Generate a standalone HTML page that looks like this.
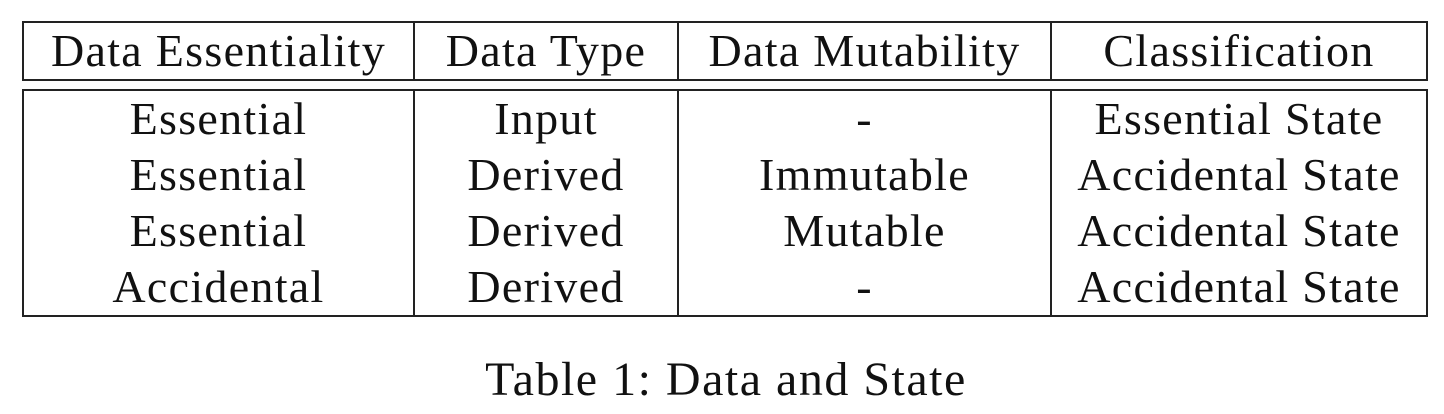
<!DOCTYPE html>
<html><head><meta charset="utf-8"><style>
body{margin:0;width:1444px;height:414px;background:#fff;position:relative;overflow:hidden;font-family:"Liberation Serif",serif;color:#111}
.l{position:absolute;background:#222}
.t{position:absolute;font-size:46px;letter-spacing:1.3px;text-align:center;line-height:56px;white-space:nowrap}
</style></head><body>
<div>
<div class="l" style="left:22px;top:21px;width:1406px;height:2px"></div>
<div class="l" style="left:22px;top:79px;width:1406px;height:2px"></div>
<div class="l" style="left:22px;top:89px;width:1406px;height:2px"></div>
<div class="l" style="left:22px;top:315px;width:1406px;height:2px"></div>
<div class="l" style="left:22px;top:21px;width:2px;height:60px"></div>
<div class="l" style="left:413px;top:21px;width:2px;height:60px"></div>
<div class="l" style="left:677px;top:21px;width:2px;height:60px"></div>
<div class="l" style="left:1050px;top:21px;width:2px;height:60px"></div>
<div class="l" style="left:1426px;top:21px;width:2px;height:60px"></div>
<div class="l" style="left:22px;top:89px;width:2px;height:228px"></div>
<div class="l" style="left:413px;top:89px;width:2px;height:228px"></div>
<div class="l" style="left:677px;top:89px;width:2px;height:228px"></div>
<div class="l" style="left:1050px;top:89px;width:2px;height:228px"></div>
<div class="l" style="left:1426px;top:89px;width:2px;height:228px"></div>
<div id="cells"></div>
</div>
<div class="t" style="left:0;width:1452px;top:352px;font-size:48px;letter-spacing:1.5px">Table 1: Data and State</div>
<script>
const headers=["Data Essentiality","Data Type","Data Mutability","Classification"];
const essentiality=["Essential","Essential","Essential","Accidental"];
const dataType=["Input","Derived","Derived","Derived"];
const mutability=["-","Immutable","Mutable","-"];
const classification=["Essential State","Accidental State","Accidental State","Accidental State"];
const colL=[23,414,678,1051],colR=[414,678,1051,1427];
const c=document.getElementById('cells');
function cell(txt,i,top,name){
 const d=document.createElement('div');d.className='t';
 
 
 d.style.left=colL[i]+'px';d.style.width=(colR[i]-colL[i])+'px';d.style.top=top+'px';
 d.textContent=txt;c.appendChild(d);
}
headers.forEach((h,i)=>cell(h,i,23,'header-cell'));
const cols=[essentiality,dataType,mutability,classification];
for(let r=0;r<4;r++){cols.forEach((col,i)=>cell(col[r],i,91+r*56,'body-cell'));}
</script>
</body></html>
